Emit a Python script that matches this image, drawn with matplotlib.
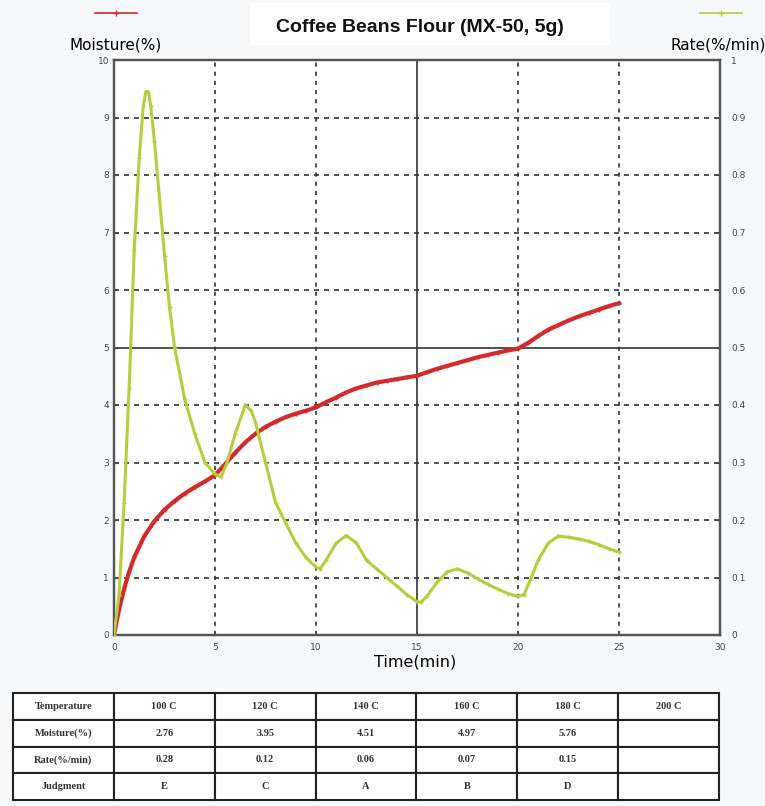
## Imports

from matplotlib import pyplot as plt
from matplotlib.lines import Line2D
from matplotlib.patches import Rectangle
import numpy as np

## Donnees

# Humidite (%) - courbe rouge, axe de gauche
t_moist = [0, 0.25, 0.5, 0.75, 1, 1.5, 2, 2.5, 3, 3.5, 4, 4.5, 5, 5.5, 6, 6.5, 7, 7.5,
           8, 8.5, 9, 9.5, 10, 10.5, 11, 11.5, 12, 12.5, 13, 13.5, 14, 14.5, 15, 15.5,
           16, 16.5, 17, 17.5, 18, 18.5, 19, 19.5, 20, 20.5, 21, 21.5, 22, 22.5, 23,
           23.5, 24, 24.5, 25]
moist = [0, 0.45, 0.8, 1.1, 1.35, 1.72, 1.98, 2.18, 2.33, 2.46, 2.57, 2.67, 2.78, 2.97,
         3.17, 3.35, 3.5, 3.62, 3.71, 3.79, 3.85, 3.9, 3.96, 4.05, 4.13, 4.22, 4.29, 4.34,
         4.39, 4.42, 4.45, 4.48, 4.51, 4.57, 4.63, 4.68, 4.73, 4.78, 4.83, 4.87, 4.91,
         4.95, 4.98, 5.08, 5.2, 5.31, 5.39, 5.47, 5.54, 5.6, 5.66, 5.72, 5.77]

# Vitesse (%/min) - courbe verte, axe de droite
t_rate = [0, 0.25, 0.5, 0.75, 1.0, 1.25, 1.45, 1.58, 1.7, 1.82, 2.0, 2.25, 2.5, 2.75,
          3.0, 3.5, 4.0, 4.5, 5.0, 5.3, 5.6, 6.0, 6.5, 6.8, 7.0, 7.5, 8.0, 8.5, 9.0, 9.5,
          10.0, 10.2, 10.5, 11.0, 11.5, 12.0, 12.5, 13.0, 13.5, 14.0, 14.5, 15.0, 15.2,
          15.5, 16.0, 16.5, 17.0, 17.5, 18.0, 18.5, 19.0, 19.5, 20.0, 20.3, 20.6, 21.0,
          21.5, 22.0, 22.5, 23.0, 23.5, 24.0, 24.5, 25.0]
rate = [0, 0.07, 0.23, 0.43, 0.67, 0.83, 0.92, 0.945, 0.945, 0.92, 0.86, 0.76, 0.66, 0.57,
        0.5, 0.41, 0.35, 0.3, 0.28, 0.275, 0.3, 0.35, 0.4, 0.39, 0.37, 0.3, 0.23, 0.195,
        0.16, 0.135, 0.118, 0.115, 0.13, 0.16, 0.173, 0.16, 0.13, 0.115, 0.1, 0.085,
        0.07, 0.058, 0.057, 0.068, 0.092, 0.11, 0.115, 0.108, 0.098, 0.088, 0.08, 0.072,
        0.067, 0.07, 0.095, 0.13, 0.16, 0.172, 0.17, 0.167, 0.163, 0.157, 0.15, 0.144]

# Tableau
row_labels = ["Temperature", "Moisture(%)", "Rate(%/min)", "Judgment"]
temps = ["100 C", "120 C", "140 C", "160 C", "180 C", "200 C"]
moist_tab = ["2.76", "3.95", "4.51", "4.97", "5.76", ""]
rate_tab = ["0.28", "0.12", "0.06", "0.07", "0.15", ""]
judg = ["E", "C", "A", "B", "D", ""]

red = '#d42a2c'
green = '#b8cc3c'
W, H = 765, 806

## Figure

fig = plt.figure(figsize=(W/100, H/100), dpi=100)
fig.patch.set_facecolor('#f7f8fa')

# cadre blanc du titre
fig.patches.append(Rectangle((250/W, 1-45/H), 360/W, 42/H, transform=fig.transFigure,
                             facecolor='white', edgecolor='none', zorder=0))
fig.text(420/W, 1-27/H, "Coffee Beans Flour (MX-50, 5g)", ha='center', va='center',
         fontsize=14, fontweight='bold', family='Liberation Sans', color='#111111')

ax = fig.add_axes([114/W, 1-635/H, (720-114)/W, (635-60)/H])
ax.set_facecolor('white')
ax.set_xlim(0, 30)
ax.set_ylim(0, 10)

# grille
for x in [5, 10, 20, 25]:
    ax.axvline(x, color='#333333', lw=1.2, ls=(0, (2.5, 3)), zorder=1)
ax.axvline(15, color='#333333', lw=1.2, zorder=1)
for y in range(1, 10):
    if y == 5:
        ax.axhline(y, color='#333333', lw=1.2, zorder=1)
    else:
        ax.axhline(y, color='#333333', lw=1.2, ls=(0, (3, 3)), zorder=1)

ax.plot(t_moist, moist, color=red, lw=3.0, marker='+', ms=3, zorder=3)

ax2 = ax.twinx()
ax2.set_ylim(0, 1)
ax2.plot(t_rate, rate, color=green, lw=2.2, marker='+', ms=3.5, mew=1, zorder=3)

for a in (ax, ax2):
    for s in a.spines.values():
        s.set_color('#555555')
        s.set_linewidth(1.6)

ax.set_xticks(range(0, 31, 5))
ax.set_yticks(range(0, 11))
ax2.set_yticks(np.arange(0, 1.01, 0.1))
ax2.set_yticklabels(['0'] + ['%.1f' % v for v in np.arange(0.1, 0.95, 0.1)] + ['1'])
ax.tick_params(axis='both', labelsize=6.5, colors='#444444', length=3, direction='in')
ax2.tick_params(axis='y', labelsize=6.5, colors='#444444', length=3, direction='in', pad=8)
ax.tick_params(axis='x', pad=6)

fig.text(415/W, 1-662/H, "Time(min)", ha='center', va='center', fontsize=11.5)
fig.text(116/W, 1-45/H, "Moisture(%)", ha='center', va='center', fontsize=11)
fig.text(718/W, 1-45/H, "Rate(%/min)", ha='center', va='center', fontsize=11)

# legendes en haut
fig.lines.append(Line2D([95/W, 137/W], [1-13/H, 1-13/H], color=red, lw=1.2,
                        transform=fig.transFigure))
fig.lines.append(Line2D([116/W], [1-13/H], color=red, marker='+', ms=4,
                        transform=fig.transFigure))
fig.lines.append(Line2D([700/W, 742/W], [1-13/H, 1-13/H], color=green, lw=1.2,
                        transform=fig.transFigure))
fig.lines.append(Line2D([721/W], [1-13/H], color=green, marker='+', ms=4,
                        transform=fig.transFigure))

## Tableau

axt = fig.add_axes([13/W, 1-800/H, (719-13)/W, (800-693)/H])
axt.axis('off')
cells = [[row_labels[0]] + temps,
         [row_labels[1]] + moist_tab,
         [row_labels[2]] + rate_tab,
         [row_labels[3]] + judg]
tab = axt.table(cellText=cells, bbox=[0, 0, 1, 1], cellLoc='center')
tab.auto_set_font_size(False)
for (r, c), cell in tab.get_celld().items():
    cell.set_linewidth(1.5)
    cell.set_edgecolor('#222222')
    cell.set_facecolor('white')
    cell.get_text().set_fontsize(7.5)
    cell.get_text().set_family('Liberation Serif')
    cell.get_text().set_fontweight('bold')
    cell.get_text().set_color('#333333')

plt.savefig("out.png", dpi=100, facecolor=fig.get_facecolor())
